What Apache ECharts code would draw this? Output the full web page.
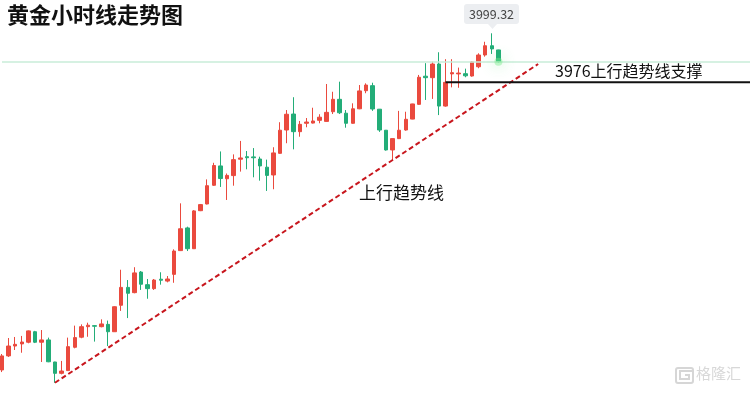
<!DOCTYPE html>
<html><head><meta charset="utf-8">
<script src="https://cdn.jsdelivr.net/npm/echarts@6/dist/echarts.min.js"></script>
<style>html,body{margin:0;padding:0;background:#fff}#c{width:750px;height:393px}</style>
</head><body><div id="c"></div>
<script>
// Hourly gold candles
const opens = [3839.1,3845.8,3850.5,3851.5,3852.3,3857.3,3852.3,3853.4,3842.9,3837.5,
3838.8,3849.9,3854.7,3859.7,3860.2,3859.7,3860.8,3857.3,3869.9,3878.4,
3875.9,3885.7,3879.7,3877.8,3882.3,3881.4,3884.6,3895.9,3906.7,3896.8,
3914.9,3918.1,3927.0,3936.2,3930.1,3931.6,3939.4,3940.6,3940.5,3939.5,
3935.6,3931.9,3942.2,3953.3,3960.9,3952.5,3956.5,3956.6,3957.9,3957.4,
3962.0,3967.9,3961.3,3956.5,3963.4,3972.0,3974.4,3963.2,3953.2,3943.8,
3949.2,3953.3,3958.5,3965.5,3978.9,3978.2,3984.7,3964.7,3980.0,3980.0,
3980.1,3979.0,3983.4,3989.0,3993.4,3991.4];
const closes = [3845.8,3850.5,3851.3,3852.4,3857.7,3852.3,3853.4,3843.0,3837.5,3838.6,
3850.2,3854.5,3859.7,3860.4,3859.9,3861.0,3857.3,3869.2,3878.4,3875.6,
3885.3,3879.9,3877.8,3881.9,3881.8,3882.4,3895.7,3906.3,3896.8,3914.8,
3917.8,3926.8,3936.4,3930.2,3931.7,3939.2,3940.0,3940.1,3940.1,3936.2,
3931.7,3942.4,3953.2,3960.8,3952.5,3956.0,3957.1,3957.6,3959.4,3961.7,
3967.9,3961.5,3956.5,3963.4,3971.9,3974.7,3963.3,3953.3,3943.8,3949.2,
3953.2,3958.4,3965.7,3978.4,3978.2,3984.7,3964.7,3976.0,3980.6,3980.4,
3979.1,3985.7,3989.0,3993.4,3991.9,3985.8];
const lows = [3838.1,3845.3,3848.6,3847.3,3851.8,3851.9,3842.9,3842.8,3833.0,3837.0,
3838.6,3849.4,3854.2,3854.9,3852.6,3859.4,3850.5,3857.2,3867.2,3863.8,
3875.6,3877.2,3873.0,3877.2,3879.7,3880.8,3880.6,3895.7,3895.7,3896.7,
3914.7,3917.9,3926.7,3926.2,3920.0,3926.8,3933.5,3934.6,3930.8,3929.2,
3924.3,3925.1,3942.0,3947.0,3944.1,3950.1,3954.6,3956.4,3956.5,3957.3,
3960.9,3960.9,3954.4,3956.3,3963.2,3970.8,3962.4,3952.4,3943.5,3939.0,
3949.0,3953.0,3958.4,3965.3,3967.6,3968.1,3960.4,3964.4,3973.6,3973.4,
3978.4,3978.7,3982.7,3988.2,3989.5,3985.3];
const highs = [3846.7,3854.3,3854.8,3855.3,3857.9,3857.7,3858.1,3854.5,3843.0,3843.4,
3854.5,3860.2,3860.8,3861.6,3860.4,3863.2,3862.6,3869.4,3886.8,3881.9,
3888.0,3886.2,3882.4,3882.4,3885.6,3883.8,3896.5,3918.4,3907.3,3915.2,
3918.1,3929.8,3937.7,3943.1,3932.6,3941.7,3948.1,3943.3,3944.7,3940.6,
3939.2,3945.1,3957.0,3962.8,3968.9,3957.6,3959.0,3963.9,3960.8,3975.2,
3971.5,3976.3,3962.8,3966.0,3974.7,3975.5,3975.8,3963.3,3953.3,3949.3,
3962.4,3962.0,3965.8,3979.5,3985.1,3985.8,3990.3,3987.0,3987.0,3983.0,
3982.5,3986.1,3989.8,3995.3,3999.32,3991.5];

const slotCount = 114;            // hourly slots incl. empty space on the right
const categories = [];
for (let i = 0; i < slotCount; i++) categories.push('H' + (i + 1));

const trendStartIdx = 8,  trendStartPrice = 3833.0;
const trendEndIdx = 81,   trendEndPrice = 3984.7;
const supportIdx = 67,    supportPrice = 3976;
const lastPrice = 3985.8, peakPrice = 3999.32;

const kdata = opens.map((o, i) => [o, closes[i], lows[i], highs[i]]);
const trendData = categories.map((c, i) => i === trendStartIdx ? trendStartPrice : (i === trendEndIdx ? trendEndPrice : null));
const supportData = categories.map((c, i) => (i === supportIdx || i === slotCount - 1) ? supportPrice : null);
const glowData = categories.map((c, i) => i === opens.length - 1 ? lastPrice : null);

const RED = '#ea4a3e', GREEN = '#23ad78';
const FONT = '"Noto Sans CJK SC", sans-serif';

const chart = echarts.init(document.getElementById('c'));
chart.setOption({
  animation: false,
  backgroundColor: '#fff',
  grid: { left: 2, top: 0, width: 748.4, height: 393 },
  xAxis: { type: 'category', data: categories, boundaryGap: false, show: false },
  yAxis: { type: 'value', min: 3828.14, max: 4015.17, show: false },
  series: [
    {
      type: 'candlestick', data: kdata, barWidth: 4, clip: false,
      itemStyle: { color: RED, color0: GREEN, borderColor: RED, borderColor0: GREEN, borderWidth: 1 },
      markLine: {
        silent: true, symbol: 'none', label: { show: false },
        lineStyle: { color: '#c8ecd9', width: 1.5, type: 'solid' },
        data: [{ yAxis: lastPrice }]
      }
    },
    {
      type: 'line', data: trendData, connectNulls: true, symbol: 'none', silent: true,
      lineStyle: { color: '#c8161d', width: 2, type: [5, 3] }
    },
    {
      type: 'line', data: supportData, connectNulls: true, symbol: 'none', silent: true,
      lineStyle: { color: '#111', width: 2 }
    },
    {
      type: 'scatter', data: glowData, symbolSize: 8, silent: true, z: 5,
      itemStyle: { color: 'rgba(120,235,140,0.55)', shadowBlur: 14, shadowColor: 'rgba(70,225,100,1)' }
    }
  ],
  graphic: [
    { type: 'text', left: 7, top: 4, style: { text: '黄金小时线走势图', font: 'bold 22px ' + FONT, fill: '#111' } },
    { type: 'text', left: 359, top: 184, style: { text: '上行趋势线', font: '17px ' + FONT, fill: '#111' } },
    { type: 'text', left: 555, top: 63, style: { text: supportPrice + '上行趋势线支撑', font: '16px ' + FONT, fill: '#111' } },
    { type: 'rect', shape: { x: 464, y: 4, width: 55, height: 20, r: 3 }, style: { fill: '#eceef1' } },
    { type: 'polygon', shape: { points: [[488, 24], [497, 24], [492.5, 29]] }, style: { fill: '#eceef1' } },
    { type: 'text', x: 491.5, y: 14, style: { text: peakPrice.toFixed(2), font: '12.5px ' + FONT, fill: '#444', align: 'center', verticalAlign: 'middle' } },
    { type: 'rect', shape: { x: 676, y: 368, width: 17, height: 15, r: 2 }, style: { fill: 'none', stroke: '#d6d6d6', lineWidth: 2 } },
    { type: 'polyline', shape: { points: [[693, 371], [680, 371], [680, 379], [689, 379], [689, 375], [685, 375]] }, style: { fill: 'none', stroke: '#d6d6d6', lineWidth: 2 } },
    { type: 'text', left: 696, top: 366, style: { text: '格隆汇', font: '15px ' + FONT, fill: '#d8d8d8' } }
  ]
});
</script>
</body></html>
